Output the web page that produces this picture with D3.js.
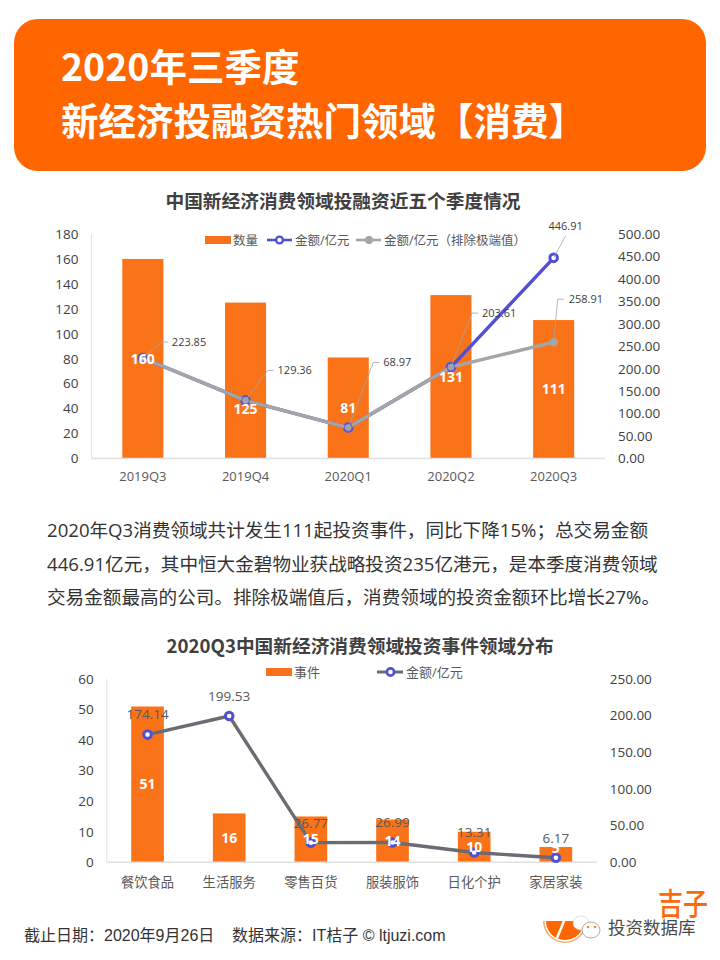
<!DOCTYPE html>
<html>
<head>
<meta charset="utf-8">
<script src="https://cdnjs.cloudflare.com/ajax/libs/d3/7.8.5/d3.min.js"></script>
<style>
  html, body { margin: 0; padding: 0; background: #fff; }
  svg { display: block; }
  text { font-family: "Open Sans", "Noto Sans CJK SC", sans-serif; }
  .cjk { font-family: "Noto Sans CJK SC", sans-serif; }
  .foot { font-family: "Liberation Sans", "Noto Sans CJK SC", sans-serif; }
</style>
</head>
<body>
<script>
//Data - first chart
var quarters = ["2019Q3", "2019Q4", "2020Q1", "2020Q2", "2020Q3"];
var dealCounts = [160, 125, 81, 131, 111];
var amounts = [223.85, 129.36, 68.97, 203.61, 446.91];
var amountsExcl = [223.85, 129.36, 68.97, 203.61, 258.91];
var countTicks = [0, 20, 40, 60, 80, 100, 120, 140, 160, 180];
var amountTicks = [0, 50, 100, 150, 200, 250, 300, 350, 400, 450, 500];

//Data - second chart
var sectors = ["餐饮食品", "生活服务", "零售百货", "服装服饰", "日化个护", "家居家装"];
var sectorEvents = [51, 16, 15, 14, 10, 5];
var sectorAmounts = [174.14, 199.53, 26.77, 26.99, 13.31, 6.17];
var eventTicks = [0, 10, 20, 30, 40, 50, 60];
var sectorAmountTicks = [0, 50, 100, 150, 200, 250];

//Text
var bannerLines = ["2020年三季度", "新经济投融资热门领域【消费】"];
var bodyLines = [
  "2020年Q3消费领域共计发生111起投资事件，同比下降15%；总交易金额",
  "446.91亿元，其中恒大金碧物业获战略投资235亿港元，是本季度消费领域",
  "交易金额最高的公司。排除极端值后，消费领域的投资金额环比增长27%。"
];

var ORANGE = "#fb7318";
var BLUE = "#5050d2";
var GREY = "#a5a5a5";
var TEXT = "#595959";

var svg = d3.select("body").append("svg").attr("width", 720).attr("height", 960);

//banner
svg.append("rect").attr("x", 14).attr("y", 19).attr("width", 692).attr("height", 152)
   .attr("rx", 24).attr("fill", "#ff6600");
svg.selectAll(".banner").data(bannerLines).enter().append("text")
   .attr("class", "cjk")
   .attr("x", 61)
   .attr("y", function(d, i) { return 81 + i * 54; })
   .attr("font-size", 37.5).attr("font-weight", 700).attr("fill", "#fff")
   .text(function(d) { return d; });

//paragraph
svg.selectAll(".body").data(bodyLines).enter().append("text")
   .attr("x", 47)
   .attr("y", function(d, i) { return 537 + i * 33.5; })
   .attr("font-size", 18.6).attr("fill", "#333")
   .text(function(d) { return d; });

function title(str, x, y) {
  svg.append("text").attr("class", "cjk").attr("x", x).attr("y", y)
     .attr("text-anchor", "middle").attr("font-size", 18.7).attr("font-weight", 700)
     .attr("fill", "#404040").text(str);
}

function styleAxis(g, size, color) {
  g.select(".domain").remove();
  g.selectAll("text").attr("font-size", size).attr("fill", color);
}

//shared frame: bars + both y axes + x axis
function frame(o) {
  var x = d3.scaleBand().domain(o.cats).range([o.left, o.right]).paddingInner(0.6).paddingOuter(0.3);
  var yL = d3.scaleLinear().domain(d3.extent(o.leftTicks)).range([o.bottom, o.top]);
  var yR = d3.scaleLinear().domain(d3.extent(o.rightTicks)).range([o.bottom, o.top]);

  svg.selectAll(".bar" + o.id).data(o.bars).enter().append("rect")
     .attr("x", function(d, i) { return x(o.cats[i]); })
     .attr("y", function(d) { return yL(d); })
     .attr("width", x.bandwidth())
     .attr("height", function(d) { return o.bottom - yL(d); })
     .attr("fill", ORANGE);

  //axis lines
  svg.append("line").attr("x1", o.left).attr("x2", o.left).attr("y1", o.top).attr("y2", o.bottom)
     .attr("stroke", "#e6e6e6").attr("stroke-width", 1.2);
  svg.append("line").attr("x1", o.left).attr("x2", o.right).attr("y1", o.bottom).attr("y2", o.bottom)
     .attr("stroke", "#e0e0e0").attr("stroke-width", 1.5);

  svg.append("g").attr("transform", "translate(" + o.left + ",0)")
     .call(d3.axisLeft(yL).tickValues(o.leftTicks).tickSize(0).tickPadding(13))
     .call(styleAxis, 13.5, "#404040");
  svg.append("g").attr("transform", "translate(" + o.right + ",0)")
     .call(d3.axisRight(yR).tickValues(o.rightTicks).tickSize(0).tickPadding(13).tickFormat(d3.format(".2f")))
     .call(styleAxis, 13.5, "#404040");
  svg.append("g").attr("transform", "translate(0," + o.bottom + ")")
     .call(d3.axisBottom(x).tickSize(0).tickPadding(o.xPad))
     .call(styleAxis, o.xSize, TEXT);

  return { x: x, yL: yL, yR: yR, cx: function(i) { return x(o.cats[i]) + x.bandwidth() / 2; } };
}

function drawLine(values, f, color) {
  var line = d3.line()
     .x(function(d, i) { return f.cx(i); })
     .y(function(d) { return f.yR(d); });
  svg.append("path").datum(values).attr("d", line)
     .attr("fill", "none").attr("stroke", color).attr("stroke-width", 3.4)
     .attr("stroke-linejoin", "round");
}

function drawMarks(values, f, fill, stroke, r, sw) {
  svg.append("g").selectAll("circle").data(values).enter().append("circle")
     .attr("cx", function(d, i) { return f.cx(i); })
     .attr("cy", function(d) { return f.yR(d); })
     .attr("r", r).attr("fill", fill).attr("stroke", stroke).attr("stroke-width", sw);
}

function barLabels(values, f, shift) {
  svg.append("g").selectAll("text").data(values).enter().append("text")
     .attr("x", function(d, i) { return f.cx(i); })
     .attr("y", function(d, i) { return (f.yL(d) + f.yL(0)) / 2 + shift[i]; })
     .attr("dy", "0.36em").attr("text-anchor", "middle")
     .attr("font-size", 14).attr("font-weight", 700).attr("fill", "#fff")
     .text(function(d) { return d; });
}

//FIRST CHART
title("中国新经济消费领域投融资近五个季度情况", 343, 208);
var f1 = frame({
  id: "a", cats: quarters, bars: dealCounts, leftTicks: countTicks, rightTicks: amountTicks,
  left: 91.5, right: 605, top: 234, bottom: 458.5, xPad: 13, xSize: 13
});

drawLine(amounts, f1, BLUE);
drawMarks(amounts, f1, "#fff", BLUE, 3.8, 3);
drawLine(amountsExcl, f1, GREY);
drawMarks(amountsExcl.slice(0, 4), f1, "#a0a0b0", BLUE, 3.9, 0.9);
svg.append("circle").attr("cx", f1.cx(4)).attr("cy", f1.yR(amountsExcl[4])).attr("r", 4.2).attr("fill", GREY);

barLabels(dealCounts, f1, [0, 28, 0, 0, 0]);

//leader lines: offset from the point to the elbow of each callout
var calloutOffsets = [[19, -16], [22, -30], [25, -65], [21, -54]];
amounts.slice(0, 4).forEach(function(v, i) {
  var px = f1.cx(i), py = f1.yR(v);
  var ex = px + calloutOffsets[i][0], ey = py + calloutOffsets[i][1];
  svg.append("polyline").attr("points", [[px, py], [ex, ey], [ex + 6, ey]].join(" "))
     .attr("fill", "none").attr("stroke", GREY).attr("stroke-width", 0.8);
  svg.append("text").attr("x", ex + 10).attr("y", ey).attr("dy", "0.36em")
     .attr("font-size", 11).attr("fill", "#404040").text(v.toFixed(2));
});
//the two last callouts of 2020Q3
svg.append("line").attr("x1", f1.cx(4)).attr("y1", f1.yR(amounts[4]))
   .attr("x2", f1.cx(4) + 12).attr("y2", f1.yR(amounts[4]) - 22)
   .attr("stroke", GREY).attr("stroke-width", 0.8);
svg.append("text").attr("x", f1.cx(4) + 12).attr("y", f1.yR(amounts[4]) - 32)
   .attr("dy", "0.36em").attr("text-anchor", "middle")
   .attr("font-size", 11).attr("fill", "#404040").text(amounts[4].toFixed(2));
var ex5 = f1.cx(4) + 4, ey5 = f1.yR(amountsExcl[4]) - 43;
svg.append("polyline")
   .attr("points", [[f1.cx(4), f1.yR(amountsExcl[4])], [ex5, ey5], [ex5 + 6, ey5]].join(" "))
   .attr("fill", "none").attr("stroke", GREY).attr("stroke-width", 0.8);
svg.append("text").attr("x", ex5 + 11).attr("y", ey5).attr("dy", "0.36em")
   .attr("font-size", 11).attr("fill", "#404040").text(amountsExcl[4].toFixed(2));

//legend
svg.append("rect").attr("x", 205).attr("y", 236).attr("width", 26).attr("height", 8).attr("fill", ORANGE);
legendText("数量", 233, 240, 12.5);
svg.append("line").attr("x1", 267).attr("x2", 292).attr("y1", 240).attr("y2", 240).attr("stroke", BLUE).attr("stroke-width", 2.6);
svg.append("circle").attr("cx", 279.5).attr("cy", 240).attr("r", 3.4).attr("fill", "#fff").attr("stroke", BLUE).attr("stroke-width", 2.4);
legendText("金额/亿元", 295, 240, 12.5);
svg.append("line").attr("x1", 356).attr("x2", 381).attr("y1", 240).attr("y2", 240).attr("stroke", GREY).attr("stroke-width", 2.6);
svg.append("circle").attr("cx", 369).attr("cy", 240).attr("r", 4).attr("fill", GREY);
legendText("金额/亿元（排除极端值）", 384, 240, 12.5);

function legendText(str, x, y, size) {
  svg.append("text").attr("x", x).attr("y", y).attr("dy", "0.36em")
     .attr("font-size", size).attr("fill", TEXT).text(str);
}

//SECOND CHART
title("2020Q3中国新经济消费领域投资事件领域分布", 360, 653);
var f2 = frame({
  id: "b", cats: sectors, bars: sectorEvents, leftTicks: eventTicks, rightTicks: sectorAmountTicks,
  left: 106.7, right: 596.7, top: 679, bottom: 862.3, xPad: 15, xSize: 13.3
});

drawLine(sectorAmounts, f2, "#6b6b73");
drawMarks(sectorAmounts, f2, "#fff", BLUE, 3.8, 3);
barLabels(sectorEvents, f2, [0, 0, 0, 0, 0, -7]);

svg.append("g").selectAll("text").data(sectorAmounts).enter().append("text")
   .attr("x", function(d, i) { return f2.cx(i); })
   .attr("y", function(d) { return f2.yR(d) - 20; })
   .attr("dy", "0.36em").attr("text-anchor", "middle")
   .attr("font-size", 13.5).attr("fill", TEXT)
   .text(function(d) { return d.toFixed(2); });

svg.append("rect").attr("x", 266).attr("y", 668).attr("width", 26).attr("height", 8).attr("fill", ORANGE);
legendText("事件", 294, 672, 13);
svg.append("line").attr("x1", 377).attr("x2", 403).attr("y1", 672).attr("y2", 672).attr("stroke", "#6b6b73").attr("stroke-width", 3);
svg.append("circle").attr("cx", 390.5).attr("cy", 672).attr("r", 3.6).attr("fill", "#fff").attr("stroke", BLUE).attr("stroke-width", 2.6);
legendText("金额/亿元", 406, 672, 13);

//footer
svg.append("text").attr("class", "foot").attr("x", 24).attr("y", 941).attr("font-size", 16).attr("fill", "#333").text("截止日期：2020年9月26日");
svg.append("text").attr("class", "foot").attr("x", 232).attr("y", 941).attr("font-size", 16).attr("fill", "#333").text("数据来源：IT桔子 © ltjuzi.com");

//logo remains, bottom right
svg.append("text").attr("class", "cjk").attr("transform", "translate(658,915) scale(1,1.22)")
   .attr("font-size", 25).attr("font-weight", 500).attr("fill", "#fb6a0a").text("吉子");
var arc = d3.arc();
svg.append("path").attr("transform", "translate(565,921)")
   .attr("d", arc({ innerRadius: 0, outerRadius: 19, startAngle: Math.PI / 2, endAngle: Math.PI * 1.5 }))
   .attr("fill", "#ff6600");
svg.append("path").attr("transform", "translate(565,921)")
   .attr("d", arc({ innerRadius: 20.5, outerRadius: 22, startAngle: Math.PI / 2, endAngle: Math.PI * 1.5 }))
   .attr("fill", "#fca868");
svg.append("line").attr("x1", 557).attr("y1", 938).attr("x2", 564).attr("y2", 921).attr("stroke", "#fff").attr("stroke-width", 2.5);

//wechat bubbles
svg.append("ellipse").attr("cx", 581).attr("cy", 923).attr("rx", 8).attr("ry", 7).attr("fill", "#fff").attr("stroke", "#ccc").attr("stroke-width", 0.6);
svg.append("ellipse").attr("cx", 591).attr("cy", 930).attr("rx", 9).attr("ry", 8).attr("fill", "#fff").attr("stroke", "#888").attr("stroke-width", 0.7);
svg.append("circle").attr("cx", 588).attr("cy", 927).attr("r", 1.3).attr("fill", "#f28a30");
svg.append("circle").attr("cx", 595).attr("cy", 927).attr("r", 1.3).attr("fill", "#f28a30");

svg.append("text").attr("class", "cjk").attr("x", 608).attr("y", 934).attr("font-size", 17.5)
   .attr("fill", "#4a4a4a").attr("stroke", "#fff").attr("stroke-width", 1.5).attr("paint-order", "stroke")
   .text("投资数据库");
</script>
</body>
</html>
